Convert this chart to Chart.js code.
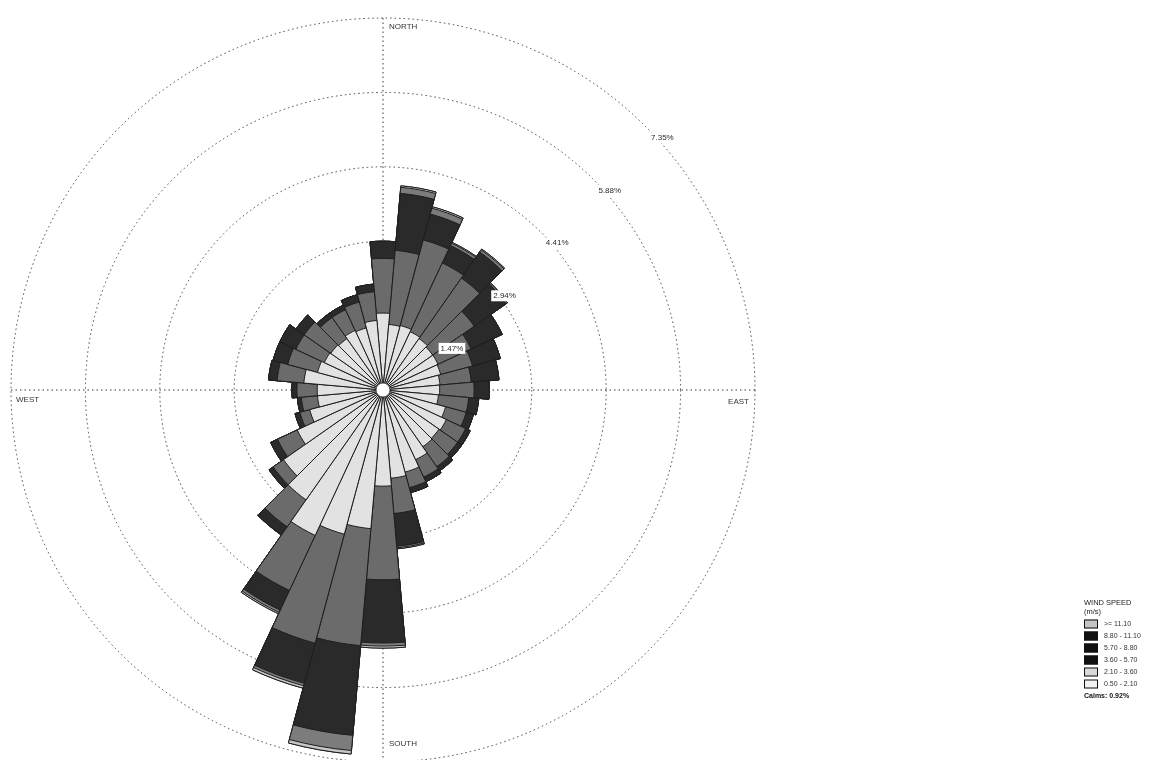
<!DOCTYPE html>
<html>
<head>
<meta charset="utf-8">
<title>Wind rose</title>
<script src="https://cdn.jsdelivr.net/npm/chart.js@4.4.0/dist/chart.umd.min.js"></script>
<style>
  html, body { margin: 0; padding: 0; background: #ffffff; overflow: hidden; }
  #wrap { position: relative; width: 1173px; height: 780px; }
</style>
</head>
<body>
<div id="wrap"><canvas id="rose"></canvas></div>
<script>
// Direction bins (degrees, clockwise from north)
const directions = [0, 10, 20, 30, 40, 50, 60, 70, 80, 90, 100, 110,
                    120, 130, 140, 150, 160, 170, 180, 190, 200, 210, 220, 230,
                    240, 250, 260, 270, 280, 290, 300, 310, 320, 330, 340, 350];

// Frequency (%) of each wind speed class per direction
const speed050to210 = [1.52, 1.30, 1.32, 1.27, 1.24, 1.20, 1.20, 1.18, 1.13, 1.12, 1.10, 1.28,
                       1.38, 1.35, 1.37, 1.52, 1.68, 1.75, 1.90, 2.75, 2.95, 3.17, 2.65, 2.40,
                       1.87, 1.50, 1.30, 1.30, 1.57, 1.34, 1.28, 1.26, 1.24, 1.30, 1.27, 1.38];
const speed210to360 = [1.08, 1.47, 1.75, 1.50, 1.46, 1.00, 0.72, 0.65, 0.62, 0.68, 0.60, 0.42,
                       0.42, 0.45, 0.48, 0.38, 0.32, 0.70, 1.85, 2.32, 2.23, 1.20, 0.65, 0.25,
                       0.43, 0.20, 0.32, 0.40, 0.53, 0.61, 0.62, 0.64, 0.51, 0.45, 0.53, 0.57];
const speed360to570 = [0.34, 1.13, 0.53, 0.38, 0.63, 0.77, 0.68, 0.57, 0.55, 0.30, 0.20, 0.15,
                       0.10, 0.10, 0.10, 0.10, 0.10, 0.65, 1.25, 1.78, 0.82, 0.43, 0.20, 0.10,
                       0.15, 0.10, 0.08, 0.10, 0.17, 0.30, 0.35, 0.20, 0.10, 0.10, 0.15, 0.15];
const speed570to880 = [0.00, 0.12, 0.12, 0.05, 0.05, 0.03, 0.00, 0.00, 0.00, 0.00, 0.00, 0.00,
                       0.00, 0.00, 0.00, 0.00, 0.00, 0.03, 0.06, 0.30, 0.05, 0.05, 0.00, 0.00,
                       0.00, 0.00, 0.00, 0.00, 0.00, 0.00, 0.00, 0.00, 0.00, 0.00, 0.00, 0.00];
const speed880to1110 = [0.00, 0.03, 0.03, 0.02, 0.02, 0.00, 0.00, 0.00, 0.00, 0.00, 0.00, 0.00,
                        0.00, 0.00, 0.00, 0.00, 0.00, 0.02, 0.04, 0.07, 0.05, 0.03, 0.00, 0.00,
                        0.00, 0.00, 0.00, 0.00, 0.00, 0.00, 0.00, 0.00, 0.00, 0.00, 0.00, 0.00];
const speedOver1110 = [0, 0, 0, 0, 0, 0, 0, 0, 0, 0, 0, 0,
                       0, 0, 0, 0, 0, 0, 0, 0, 0, 0, 0, 0,
                       0, 0, 0, 0, 0, 0, 0, 0, 0, 0, 0, 0];

const speedClasses = ['0.50 - 2.10', '2.10 - 3.60', '3.60 - 5.70', '5.70 - 8.80', '8.80 - 11.10', '>= 11.10'];
const classSeries = [speed050to210, speed210to360, speed360to570, speed570to880, speed880to1110, speedOver1110];

// Ring values and their labels
const ringValues = [1.47, 2.94, 4.41, 5.88, 7.35];
const ringLabels = ['1.47%', '2.94%', '4.41%', '5.88%', '7.35%'];
const compassLabels = ['NORTH', 'EAST', 'SOUTH', 'WEST'];
const calmsPercent = 0.92;

// Styling
const petalColors = ['#e2e2e2', '#6b6b6b', '#2a2a2a', '#7c7c7c', '#c6c6c6', '#a8a8a8'];
const legendSwatchColors = ['#f3f3f3', '#d9d9d9', '#101010', '#101010', '#101010', '#c4c4c4'];
const FONT = '"Liberation Sans", Arial, sans-serif';

// Petals are stacked: each ring of a petal ends at the running total up to that class
const stacked = classSeries.map((_, k) =>
  directions.map((d, i) => {
    let s = 0;
    for (let j = 0; j <= k; j++) s += classSeries[j][i];
    return +s.toFixed(4);
  })
);

const datasets = stacked.map((vals, k) => ({
  label: speedClasses[k],
  data: vals,
  backgroundColor: petalColors[k],
  borderColor: '#1e1e1e',
  borderWidth: 1
}));

const roseDecor = {
  id: 'roseDecor',
  beforeDatasetsDraw(chart) {
    const s = chart.scales.r;
    const ctx = chart.ctx;
    const cx = s.xCenter, cy = s.yCenter, R = s.drawingArea;
    ctx.save();
    ctx.strokeStyle = '#3a3a3a';
    ctx.lineWidth = 1;
    ctx.setLineDash([1.5, 3]);
    ctx.beginPath();
    ctx.moveTo(cx, cy - R); ctx.lineTo(cx, cy + R);
    ctx.moveTo(cx - R, cy); ctx.lineTo(cx + R, cy);
    ctx.stroke();
    ctx.restore();
  },
  afterDatasetsDraw(chart) {
    const s = chart.scales.r;
    const ctx = chart.ctx;
    const cx = s.xCenter, cy = s.yCenter, R = s.drawingArea;
    ctx.save();
    // calm centre
    ctx.beginPath();
    ctx.arc(cx, cy, 7, 0, Math.PI * 2);
    ctx.fillStyle = '#ffffff';
    ctx.fill();
    ctx.strokeStyle = '#333';
    ctx.lineWidth = 0.8;
    ctx.stroke();

    // compass names
    ctx.font = '8px ' + FONT;
    ctx.fillStyle = '#333';
    ctx.textBaseline = 'middle';
    ctx.textAlign = 'left';
    ctx.fillText(compassLabels[0], cx + 6, cy - R + 9);
    ctx.fillText(compassLabels[2], cx + 6, cy + R - 18);
    ctx.fillText(compassLabels[3], cx - R + 5, cy + 10);
    ctx.textAlign = 'right';
    ctx.fillText(compassLabels[1], cx + R - 6, cy + 12);

    // ring percentages along the north-east diagonal
    ctx.textAlign = 'left';
    ctx.font = '8px ' + FONT;
    ringValues.forEach((v, i) => {
      const r = s.getDistanceFromCenterForValue(v);
      const px = cx + r * Math.SQRT1_2 + 5;
      const py = cy - r * Math.SQRT1_2 + 11;
      const w = ctx.measureText(ringLabels[i]).width;
      ctx.fillStyle = '#ffffff';
      ctx.fillRect(px - 2, py - 5.5, w + 4, 11);
      ctx.fillStyle = '#2a2a2a';
      ctx.fillText(ringLabels[i], px, py);
    });
    ctx.restore();
  },
  afterDraw(chart) {
    const ctx = chart.ctx;
    const x0 = 1084, y0 = 603;
    ctx.save();
    ctx.fillStyle = '#222';
    ctx.textBaseline = 'middle';
    ctx.textAlign = 'left';
    ctx.font = '7.5px ' + FONT;
    ctx.fillText('WIND SPEED', x0, y0);
    ctx.fillText('(m/s)', x0, y0 + 9);
    const step = 12;
    for (let k = speedClasses.length - 1, row = 0; k >= 0; k--, row++) {
      const y = y0 + 21 + row * step;
      ctx.fillStyle = legendSwatchColors[k];
      ctx.fillRect(x0, y - 4.5, 14, 9);
      ctx.strokeStyle = '#111';
      ctx.lineWidth = 1;
      ctx.strokeRect(x0 + 0.5, y - 4, 13, 8);
      ctx.fillStyle = '#333';
      ctx.font = '7px ' + FONT;
      ctx.fillText(speedClasses[k], x0 + 20, y);
    }
    ctx.fillStyle = '#111';
    ctx.font = 'bold 7px ' + FONT;
    ctx.fillText('Calms: ' + calmsPercent.toFixed(2) + '%', x0, y0 + 21 + speedClasses.length * step);
    ctx.restore();
  }
};

new Chart(document.getElementById('rose'), {
  type: 'polarArea',
  data: { labels: directions, datasets },
  options: {
    responsive: true,
    maintainAspectRatio: false,
    animation: false,
    layout: { padding: { left: 11, right: 418, top: 18, bottom: 18 } },
    plugins: { legend: { display: false }, tooltip: { enabled: false } },
    scales: {
      r: {
        min: 0,
        max: ringValues[ringValues.length - 1],
        startAngle: -5,
        afterBuildTicks: (scale) => {
          scale.ticks = [0].concat(ringValues).map(v => ({ value: v }));
        },
        ticks: { display: false },
        grid: { circular: true, color: '#444444', lineWidth: 1 },
        border: { dash: [1.5, 3] },
        angleLines: { display: false },
        pointLabels: { display: false }
      }
    }
  },
  plugins: [roseDecor]
});
</script>
</body>
</html>
